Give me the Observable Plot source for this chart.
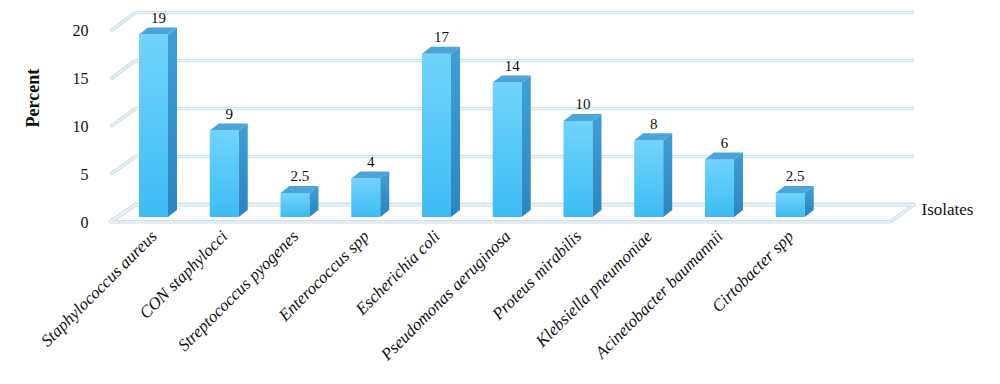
<!DOCTYPE html>
<html><head><meta charset="utf-8">
<script src="https://cdn.jsdelivr.net/npm/d3@7"></script>
<script src="https://cdn.jsdelivr.net/npm/@observablehq/plot@0.6"></script>
<style>body{margin:0;background:#fff;}</style>
</head><body><div id="chart"></div>
<script>
const categories = ["Staphylococcus aureus", "CON staphylocci", "Streptococcus pyogenes", "Enterococcus spp", "Escherichia coli", "Pseudomonas aeruginosa", "Proteus mirabilis", "Klebsiella pneumoniae", "Acinetobacter baumannii", "Cirtobacter spp"];
const values = [19, 9, 2.5, 4, 17, 14, 10, 8, 6, 2.5];
const yTicks = [0, 5, 10, 15, 20];
const yLabel = "Percent";
const xLabel = "Isolates";

// geometry (styling) of the pseudo-3D view, in scale units
const HW = 0.205, DX = 0.127, DY = 0.73;   // bar half width & bar depth offsets
const BX = 0.353, BY = 1.35;               // wall depth offsets
const X0 = -0.615, X1 = 10.41, XR = 0.33;  // floor extent
const FLOOR = -0.45;

const bars = categories.map((c, i) => ({c, i, v: values[i]}));
const side = bars.flatMap(b => [
  {i: b.i, x: b.i + HW, y1: 0, y2: b.v},
  {i: b.i, x: b.i + HW + DX, y1: DY, y2: b.v + DY}
]);
const tops = bars.flatMap(b => [
  {i: b.i, x: b.i - HW, y1: b.v, y2: b.v},
  {i: b.i, x: b.i - HW + DX, y1: b.v, y2: b.v + DY},
  {i: b.i, x: b.i + HW, y1: b.v, y2: b.v + DY},
  {i: b.i, x: b.i + HW + DX, y1: b.v + DY, y2: b.v + DY}
]);
const floorPts = [
  {x: X0, y: FLOOR}, {x: X1, y: FLOOR}, {x: X1 + XR, y: BY}, {x: X0 + BX, y: BY}, {x: X0, y: FLOOR}
];

const gridOuter = "#d0dfe8", gridInner = "#eef4f7";
const gridMarks = (stroke, w) => [
  Plot.link(yTicks, {x1: X0 + BX, x2: X1 + XR, y1: v => v + BY, y2: v => v + BY, stroke, strokeWidth: w}),
  Plot.link(yTicks, {x1: X0, y1: v => v * 0.992 + FLOOR, x2: X0 + BX, y2: v => v + BY, stroke, strokeWidth: w}),
  Plot.line(floorPts, {x: "x", y: "y", stroke, strokeWidth: w})
];

const plot = Plot.plot({
  width: 1000, height: 384,
  marginLeft: 110, marginRight: 110, marginTop: 25, marginBottom: 167,
  x: {type: "linear", domain: [X0, X1], axis: null, label: null},
  y: {domain: [0, 20], axis: null, label: null},
  style: {fontFamily: "'Liberation Serif', serif", fontSize: "16px", color: "#111", background: "#fff"},
  marks: [
    ...gridMarks(gridOuter, 3.6),
    ...gridMarks(gridInner, 1.2),
    Plot.rect(bars, {x1: d => d.i - HW, x2: d => d.i + HW, y1: 0, y2: "v", fill: "url(#gFront)"}),
    Plot.areaY(side, {x: "x", y1: "y1", y2: "y2", z: "i", fill: "url(#gSide)"}),
    Plot.areaY(tops, {x: "x", y1: "y1", y2: "y2", z: "i", fill: "#4aa5da"}),
    Plot.text(bars, {x: d => d.i + DX / 2, y: d => d.v + DY, text: d => String(d.v), dy: -10, fontSize: 15, fill: "#111"}),
    Plot.axisY(yTicks, {tickSize: 0, tickPadding: 22, dy: 5.5, fontSize: 16, fill: "#111", label: null}),
    Plot.axisX(d3.range(categories.length), {tickSize: 0, tickPadding: 16, tickRotate: -45, dx: 0, label: null,
      tickFormat: i => categories[i], fontSize: 17, fontStyle: "italic", fill: "#111"}),
    Plot.text([yLabel], {frameAnchor: "left", dx: -77, dy: 6, rotate: -90, fontWeight: "bold", fontSize: 18, fill: "#111"}),
    Plot.text([xLabel], {frameAnchor: "bottom-right", dx: 31, dy: -3, textAnchor: "start", fontSize: 17, fill: "#111"})
  ]
});

const svg = d3.select(plot);
const defs = svg.insert("defs", ":first-child");
const g1 = defs.append("linearGradient").attr("id", "gFront").attr("x1", 0).attr("y1", 0).attr("x2", 0).attr("y2", 1);
g1.append("stop").attr("offset", "0%").attr("stop-color", "#72d3fc");
g1.append("stop").attr("offset", "100%").attr("stop-color", "#3cbcf4");
const g2 = defs.append("linearGradient").attr("id", "gSide").attr("x1", 0).attr("y1", 0).attr("x2", 0).attr("y2", 1);
g2.append("stop").attr("offset", "0%").attr("stop-color", "#3e9fd5");
g2.append("stop").attr("offset", "100%").attr("stop-color", "#2a86c0");

document.getElementById("chart").appendChild(plot);
</script>
</body></html>
